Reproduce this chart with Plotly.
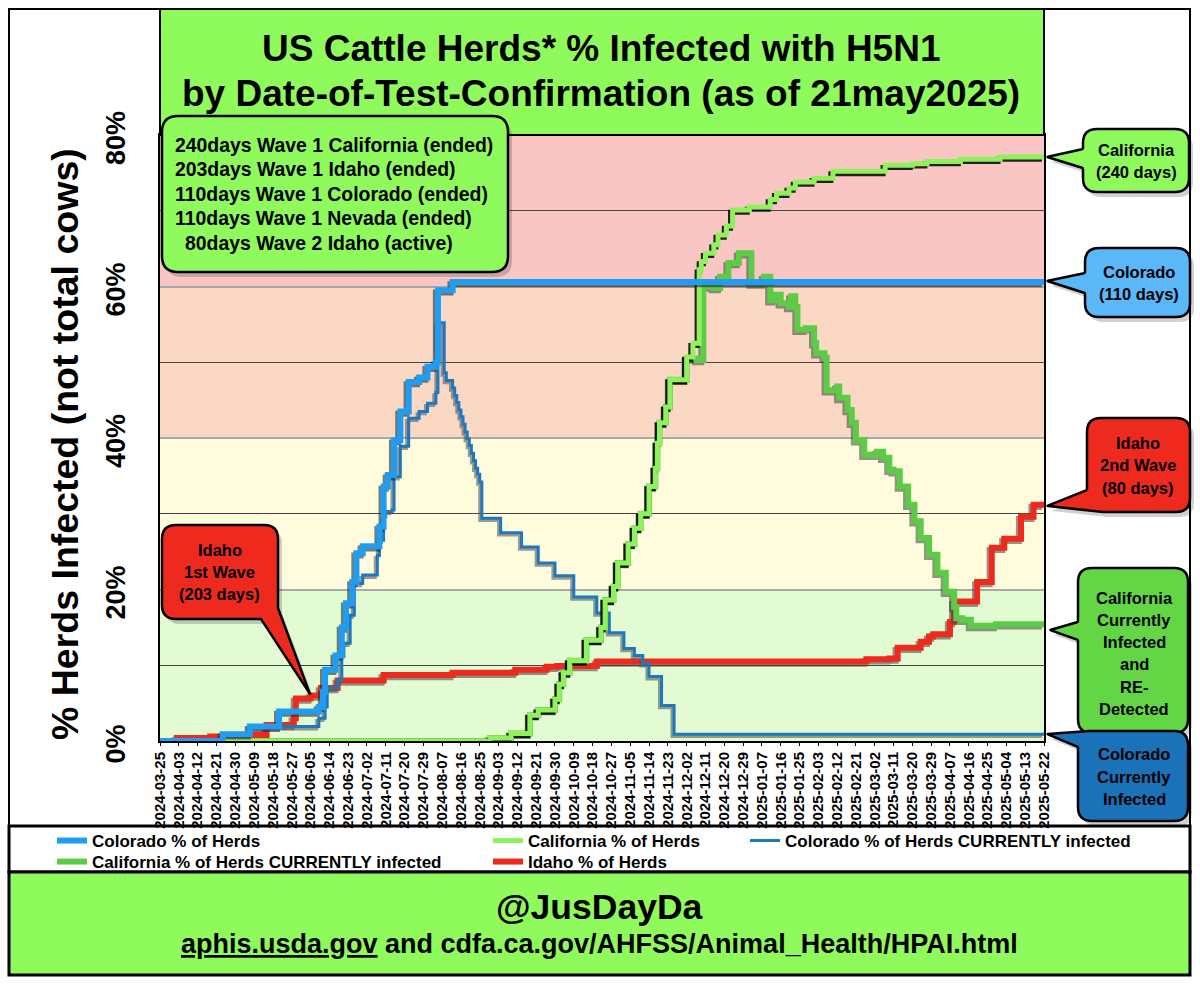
import pandas as pd
import plotly.graph_objects as go

FONT = "Liberation Sans"
START = pd.Timestamp("2024-03-25")

# every series is (days since 2024-03-25, % of herds)
colorado_days = [0, 30, 43, 57, 76, 78, 79, 84, 87, 89, 92, 94, 97, 105, 107, 109, 112, 115, 119, 124, 128, 132, 133, 140, 423]
colorado_vals = [0, 0.9, 1.9, 3.9, 4.5, 6.5, 9.4, 11.3, 15, 18.2, 21, 24.8, 25.7, 28.3, 33.6, 35.1, 39.7, 43.5, 47.4, 48, 49.4, 50, 59.5, 60.6, 60.6]

colorado_now_days = [0, 30, 43, 57, 76, 79, 80, 85, 87, 88, 91, 93, 97, 104, 105, 107, 108, 111, 112, 115, 119, 124, 128, 132, 133, 136, 137, 140,
                     141, 142, 143, 144, 145, 146, 147, 148, 149, 150, 151, 152, 153, 154, 163, 173, 181, 189, 198, 209, 215, 222, 227, 231, 234, 240, 246, 423]
colorado_now_vals = [0, 0.9, 1.9, 1.9, 3, 4.5, 7, 8, 11.2, 12.9, 16.6, 20.8, 21.9, 24.5, 26.5, 29.6, 30.3, 30.5, 34.9, 38.9, 42.6, 43.5, 44.6, 46, 55.2, 48.6, 47.6, 46.6,
                     45.6, 44.7, 43.7, 42.8, 41.8, 40.8, 39.9, 39, 38, 37, 36, 35.2, 34.2, 29.4, 27.5, 25.6, 23.5, 21.8, 19, 16.9, 14.3, 12.2, 11.3, 10.2, 8.5, 4.7, 0.9, 0.9]

california_days = [0, 158, 168, 177, 181, 189, 191, 193, 196, 204, 211, 213, 217, 219, 224, 227, 230, 234, 237, 238, 239, 242, 244, 252, 255, 258, 259, 261, 265, 267, 271, 274,
                   282, 292, 295, 301, 304, 313, 322, 347, 360, 367, 383, 402, 423]
california_vals = [0, 0.4, 1, 3.4, 4.1, 5.5, 7.5, 9, 10.6, 13.3, 15, 18.6, 20.4, 23.5, 26, 28.1, 30, 33.6, 36, 39.3, 42, 44.1, 47.7, 50.7, 52.5, 62.2, 63.3, 64.4, 65.5, 66.8, 68, 70.1,
                   70.5, 71.5, 72.3, 73, 73.8, 74.3, 75.2, 76, 76.2, 76.5, 76.8, 77.1, 77.1]

california_now_days = [0, 158, 168, 177, 181, 189, 191, 193, 196, 204, 211, 213, 217, 219, 224, 227, 230, 234, 237, 238, 239, 242, 244, 252, 257, 260, 265, 268, 272, 277, 283, 289,
                       292, 294, 297, 301, 302, 304, 305, 309, 313, 314, 318, 319, 324, 325, 329, 331, 333, 337, 343, 346, 349, 351, 354, 358, 361, 364, 368, 372, 376, 380, 381, 384, 388, 400, 423]
california_now_vals = [0, 0.4, 1, 3.4, 4.1, 5.5, 7.5, 9, 10.6, 13.3, 15, 18.6, 20.4, 23.5, 26, 28.1, 30, 33.6, 36, 39.3, 42, 44.1, 47.7, 50.5, 50.3, 60, 59.8, 61.3, 63.1, 64.4, 60.4, 61.3,
                       58.2, 58.9, 57.8, 57.3, 58.7, 57.3, 54.3, 54.5, 52.5, 51.2, 50.6, 46.3, 46.8, 45.3, 43.7, 42, 39.7, 37.8, 38.2, 37.4, 35.8, 35.6, 33.6, 31.2, 29, 26.8, 24.6, 22.2, 19.7, 17.7, 16.2, 16, 15.2, 15.4, 15.4]

idaho_days = [0, 8, 24, 45, 51, 64, 65, 72, 77, 85, 107, 140, 170, 185, 190, 209, 338, 349, 353, 364, 368, 370, 378, 380, 391, 398, 404, 412, 418, 423]
idaho_vals = [0, 0.4, 0.6, 0.8, 2.1, 3, 5.6, 6, 7, 8, 8.7, 9, 9.4, 9.8, 9.9, 10.5, 10.8, 10.9, 12.3, 13.1, 13.8, 14.1, 15.7, 18.4, 21, 25.5, 26.7, 29.6, 31.2, 31.2]

tick_labels = ["2024-03-25", "2024-04-03", "2024-04-12", "2024-04-21", "2024-04-30", "2024-05-09", "2024-05-18", "2024-05-27",
               "2024-06-05", "2024-06-14", "2024-06-23", "2024-07-02", "2024-07-11", "2024-07-20", "2024-07-29", "2024-08-07",
               "2024-08-16", "2024-08-25", "2024-09-03", "2024-09-12", "2024-09-21", "2024-09-30", "2024-10-09", "2024-10-18",
               "2024-10-27", "2024-11-05", "2024-11-14", "2024-11-23", "2024-12-02", "2024-12-11", "2024-12-20", "2024-12-29",
               "2025-01-07", "2025-01-16", "2025-01-25", "2025-02-03", "2025-02-12", "2025-02-21", "2025-03-02", "2025-03-11",
               "2025-03-20", "2025-03-29", "2025-04-07", "2025-04-16", "2025-04-25", "2025-05-04", "2025-05-13", "2025-05-22"]

zone_edges = [0, 20, 40, 60, 80]
zone_colors = ["#e2fbd2", "#fefcdc", "#fbd8c4", "#fac6c4"]

info_lines = ["240days Wave 1 California (ended)", "203days Wave 1 Idaho (ended)", "110days Wave 1 Colorado (ended)",
              "110days Wave 1 Nevada (ended)", "80days Wave 2 Idaho (active)"]

GREEN = "#8ffa5c"
RED = "#ee2a1f"


def fx(x):
    return x / 1200


def fy(y):
    return 1 - y / 989


def dates(days):
    return START + pd.to_timedelta(days, unit="D")


def rounded_path(points, dx=0, dy=0):
    # points are (x, y, corner radius) in pixels of the page
    parts = []
    n = len(points)
    for i in range(n):
        px, py, _ = points[i - 1]
        x, y, r = points[i]
        nx, ny, _ = points[(i + 1) % n]
        d1 = ((x - px) ** 2 + (y - py) ** 2) ** 0.5
        d2 = ((nx - x) ** 2 + (ny - y) ** 2) ** 0.5
        ax, ay = x + (px - x) * r / d1, y + (py - y) * r / d1
        bx, by = x + (nx - x) * r / d2, y + (ny - y) * r / d2
        parts.append(f"{'L' if i else 'M'}{fx(ax + dx):.5f},{fy(ay + dy):.5f}")
        parts.append(f"Q{fx(x + dx):.5f},{fy(y + dy):.5f} {fx(bx + dx):.5f},{fy(by + dy):.5f}")
    return " ".join(parts) + " Z"


fig = go.Figure()


def add_series(days, vals, name, color, width, legend, shadow):
    fig.add_trace(go.Scatter(x=dates(days) - pd.Timedelta(days=1), y=[v - 0.3 for v in vals], mode="lines",
                             line=dict(color=shadow, width=width, shape="hv"), showlegend=False,
                             hoverinfo="skip", cliponaxis=False))
    fig.add_trace(go.Scatter(x=dates(days), y=vals, mode="lines", name=name,
                             line=dict(color=color, width=width, shape="hv"),
                             legend=legend, cliponaxis=False))


add_series(idaho_days, idaho_vals, "Idaho % of Herds", "#ee2a1f", 6, "legend5", "rgba(60,60,60,0.55)")
add_series(colorado_now_days, colorado_now_vals, "Colorado % of Herds CURRENTLY infected", "#1f78bd", 3, "legend3", "rgba(90,90,90,0.6)")
add_series(california_now_days, california_now_vals, "California % of Herds CURRENTLY infected", "#5ccb45", 6, "legend4", "rgba(60,60,60,0.55)")
add_series(california_days, california_vals, "California % of Herds", "#8ff25c", 5, "legend2", "rgba(0,0,0,0.85)")
add_series(colorado_days, colorado_vals, "Colorado % of Herds", "#1f9df2", 6, "legend", "rgba(40,40,40,0.6)")

shapes = []
for lo, hi, c in zip(zone_edges[:-1], zone_edges[1:], zone_colors):
    shapes.append(dict(type="rect", xref="x domain", yref="y", x0=0, x1=1, y0=lo, y1=hi,
                       fillcolor=c, line_width=0, layer="below"))


def box(x0, y0, x1, y1, fill, width=2):
    shapes.append(dict(type="rect", xref="paper", yref="paper", x0=fx(x0), x1=fx(x1), y0=fy(y0), y1=fy(y1),
                       fillcolor=fill, line=dict(color="black", width=width), layer="above"))


def callout(points, fill):
    shapes.append(dict(type="path", xref="paper", yref="paper", path=rounded_path(points, 4, 5),
                       fillcolor="rgba(0,0,0,0.18)", line_width=0, layer="above"))
    shapes.append(dict(type="path", xref="paper", yref="paper", path=rounded_path(points),
                       fillcolor=fill, line=dict(color="black", width=2.5), layer="above"))


# page frame, title panel, legend strip and footer
shapes.append(dict(type="rect", xref="paper", yref="paper", x0=fx(9), x1=fx(1190), y0=fy(9), y1=fy(826),
                   line=dict(color="black", width=2), layer="below"))
box(160, 9, 1044, 135, GREEN)
box(9, 826, 1190, 872, "rgba(0,0,0,0)", 3)
box(9, 872, 1190, 975, GREEN, 3)

callout([(162, 116, 16), (508, 116, 16), (508, 272, 16), (162, 272, 16)], GREEN)
callout([(162, 525, 14), (278, 525, 14), (278, 608, 1), (310, 694, 1), (261, 619, 1), (162, 619, 14)], RED)
callout([(1083, 129, 14), (1189, 129, 14), (1189, 192, 14), (1083, 192, 14), (1083, 168, 1), (1047, 157, 1), (1083, 149, 1)], GREEN)
callout([(1085, 248, 14), (1190, 248, 14), (1190, 317, 14), (1085, 317, 14), (1085, 293, 1), (1047, 281, 1), (1085, 273, 1)], "#5ab8f8")
callout([(1087, 418, 14), (1190, 418, 14), (1190, 512, 14), (1104, 512, 1), (1047, 506, 1), (1087, 490, 1)], RED)
callout([(1078, 568, 14), (1188, 568, 14), (1188, 733, 14), (1078, 733, 14), (1078, 640, 1), (1050, 630, 1), (1078, 622, 1)], "#62d645")
callout([(1090, 731, 1), (1188, 731, 14), (1188, 821, 14), (1078, 821, 14), (1078, 747, 1), (1047, 734, 1)], "#1a72b8")

annotations = []


def label(text, x, y, size, anchor="center", angle=0):
    annotations.append(dict(text=text, xref="paper", yref="paper", x=fx(x), y=fy(y), showarrow=False,
                            xanchor=anchor, yanchor="middle", textangle=angle,
                            font=dict(family=FONT, size=size, color="black", weight=700)))


label("US Cattle Herds* % Infected with H5N1", 601, 49, 37)
label("by Date-of-Test-Confirmation (as of 21may2025)", 601, 94, 37)
label("% Herds Infected (not total cows)", 65, 444, 37.5, angle=-90)

for i, line in enumerate(info_lines):
    label(line, 183 if i == 4 else 173, 145 + i * 24.5, 19.4, "left")

for text, x, y in [("Idaho", 220, 550), ("1st Wave", 220, 572), ("(203 days)", 220, 594),
                   ("California", 1136, 150), ("(240 days)", 1136, 172),
                   ("Colorado", 1139, 272), ("(110 days)", 1139, 294),
                   ("Idaho", 1138, 443), ("2nd Wave", 1138, 465), ("(80 days)", 1138, 488),
                   ("California", 1134, 598), ("Currently", 1134, 620), ("Infected", 1134, 642),
                   ("and", 1134, 664), ("RE-", 1134, 687), ("Detected", 1134, 709),
                   ("Colorado", 1134, 754), ("Currently", 1134, 777), ("Infected", 1134, 799)]:
    label(text, x, y, 16.5)

label("@JusDayDa", 599, 907, 35.5)
label("<u>aphis.usda.gov</u> and cdfa.ca.gov/AHFSS/Animal_Health/HPAI.html", 599, 944, 27)

legend_style = dict(font=dict(family=FONT, size=17, color="black", weight=700), bgcolor="rgba(0,0,0,0)",
                    orientation="v", xanchor="left", yanchor="top", itemwidth=30)

fig.update_layout(
    width=1200, height=989,
    margin=dict(l=0, r=0, t=0, b=0),
    paper_bgcolor="white", plot_bgcolor="white",
    shapes=shapes, annotations=annotations,
    legend=dict(x=fx(52), y=fy(823), **legend_style),
    legend2=dict(x=fx(488), y=fy(823), **legend_style),
    legend3=dict(x=fx(745), y=fy(823), **legend_style),
    legend4=dict(x=fx(52), y=fy(844), **legend_style),
    legend5=dict(x=fx(488), y=fy(844), **legend_style),
    hovermode=False,
)
fig.update_xaxes(
    domain=[fx(160), fx(1044)], type="date",
    range=[tick_labels[0], tick_labels[-1]],
    tickmode="array", tickvals=tick_labels, ticktext=tick_labels, tickangle=-90,
    tickfont=dict(family=FONT, size=15, color="black", weight=700),
    ticks="outside", ticklen=3, tickcolor="black",
    showgrid=False, showline=True, mirror=True, linecolor="black", linewidth=2, automargin=False,
)
fig.update_yaxes(
    domain=[fy(741), fy(135)], range=[0, 80],
    tickmode="array", tickvals=[0, 20, 40, 60, 80], ticktext=["0%", "20%", "40%", "60%", "80%"], tickangle=-90,
    tickfont=dict(family=FONT, size=27, color="black", weight=700),
    ticklabelshift=7,
    ticks="outside", ticklen=22, tickcolor="rgba(0,0,0,0)",
    showgrid=True, gridcolor="#a8a8a8", gridwidth=2,
    minor=dict(dtick=10, showgrid=True, gridcolor="#444444", gridwidth=1, ticks=""),
    showline=True, mirror=True, linecolor="black", linewidth=2, zeroline=False, automargin=False,
)

fig.write_html("out.html", post_script="document.body.style.margin='0';", config={"displayModeBar": False})
